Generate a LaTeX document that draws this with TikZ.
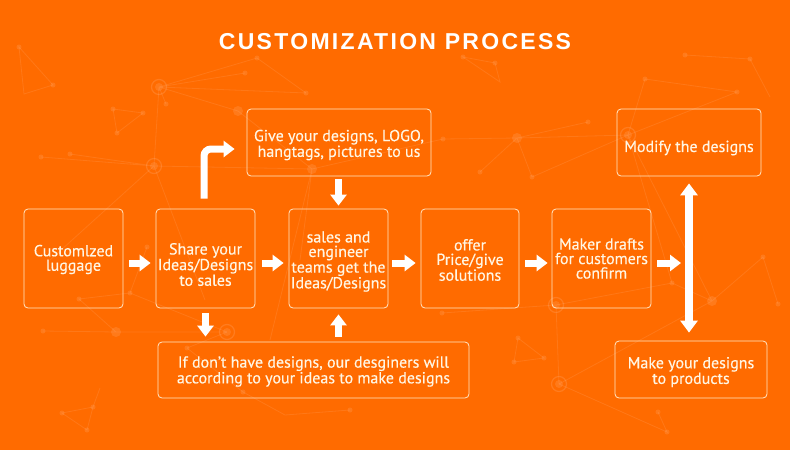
\documentclass[tikz,border=0pt]{standalone}
\usepackage{fontspec}
\setmainfont{PT Sans}[FakeBold=0.4]
\newfontfamily\titlefont{Liberation Sans}[LetterSpace=10]
\usetikzlibrary{arrows.meta}
\definecolor{bgor}{RGB}{255,107,0}
\definecolor{cream}{RGB}{255,246,228}
\definecolor{edgec}{RGB}{255,232,200}
\tikzset{
  box/.style={draw=edgec, line width=0.8pt, rounded corners=4pt, inner sep=0pt},
  boxtext/.style={align=center, text=cream, inner sep=0pt, font=\fontsize{16}{14.5}\selectfont},
  blk/.style={draw=white, line width=7pt, -{Triangle[width=16pt,length=11pt]}},
  dblk/.style={draw=white, line width=8pt, {Triangle[width=17pt,length=12pt]}-{Triangle[width=17pt,length=12pt]}},
  net/.style={draw=white, opacity=0.09, line width=0.8pt},
  dot/.style={fill=white, opacity=0.1},
  ring/.style={draw=white, opacity=0.12, line width=1.2pt}
}
\begin{document}
\begin{tikzpicture}[x=1pt,y=-1pt]
\fill[bgor] (0,0) rectangle (790,450);
\useasboundingbox (0,0) rectangle (790,450);
% faint background network
\draw[net] (19,47) -- (53,85) -- (24,94) -- cycle;
\draw[net] (159,87) -- (257,58) (159,87) -- (245,73) (159,87) -- (306,93) (159,87) -- (238,111) (159,87) -- (166,104) (159,87) -- (154,166);
\draw[net] (113,109) -- (143,113) -- (117,133) -- cycle;
\draw[net] (154,166) -- (41,157) (154,166) -- (70,154) (154,166) -- (50,260) (154,166) -- (205,300) (154,166) -- (312,169) (306,93) -- (257,58);
\draw[net] (312,169) -- (238,111) (312,169) -- (300,260) (312,169) -- (270,340) (312,169) -- (443,139);
\draw[net] (463,57) -- (495,63) -- (500,82) -- cycle;
\draw[net] (685,55) -- (750,59) -- (770,97) (645,79) -- (737,92) -- (628,135) -- (645,79);
\draw[net] (628,135) -- (517,138) -- (480,172) (517,138) -- (532,177) -- (628,135) (588,122) -- (517,138) (443,139) -- (517,138);
\draw[net] (628,135) -- (672,283) -- (712,301) -- (763,257) -- (778,304) (712,301) -- (628,135) (712,301) -- (559,384);
\draw[net] (116,332) -- (43,331) (116,332) -- (79,299) -- (130,293) -- (147,247) (116,332) -- (227,332) (130,293) -- (227,332);
\draw[net] (62,413) -- (93,407) -- (87,430) -- cycle (93,407) -- (100,388);
\draw[net] (187,348) -- (243,392) -- (285,415) -- (350,410) (227,332) -- (187,348);
\draw[net] (556,305) -- (559,384) -- (667,432) -- (658,412) (518,338) -- (544,358) -- (514,362) -- cycle (442,313) -- (556,305) (556,305) -- (672,283);
\foreach \p in {(19,47),(53,85),(257,58),(245,73),(306,93),(166,104),(113,109),(143,113),(117,133),(41,157),(70,154),(463,57),(495,63),(685,55),(750,59),(645,79),(737,92),(588,122),(443,139),(480,172),(532,177),(79,299),(130,293),(147,247),(43,331),(62,413),(93,407),(87,430),(187,348),(243,392),(350,410),(518,338),(544,358),(514,362),(442,313),(763,257),(778,304),(672,283),(667,432),(658,412)}
  \fill[dot] \p circle (2.5);
\foreach \p in {(238,111),(312,169),(517,138),(116,332),(712,301)}
  \fill[dot] \p circle (5);
\foreach \p in {(159,87),(154,166),(628,135),(227,332),(556,305),(559,384)}
  {\fill[dot] \p circle (4); \draw[ring] \p circle (7.5);}
% title
\node[anchor=base, text=white, font=\titlefont\bfseries\fontsize{23}{23}\selectfont] (title) at (395,49) {CUSTOMIZATION PROCESS};
% boxes
\node[box, minimum width=99, minimum height=99] (b1) at (73.5,258.5) {};
\node[box, minimum width=99, minimum height=99] (b2) at (205.5,258.5) {};
\node[box, minimum width=99, minimum height=99] (b3) at (338.5,258.5) {};
\node[box, minimum width=98, minimum height=99] (b4) at (470,258.5) {};
\node[box, minimum width=99, minimum height=99] (b5) at (601.5,258.5) {};
\node[box, minimum width=184, minimum height=67] (give) at (339,142.5) {};
\node[box, minimum width=144, minimum height=67] (modify) at (689,142.5) {};
\node[box, minimum width=152, minimum height=57] (make) at (691,369.5) {};
\node[box, minimum width=311, minimum height=56] (bot) at (313.5,370) {};
% box texts
\node[boxtext] (b1t) at ([yshift=-1pt]b1.center) {Customlzed\\luggage};
\node[boxtext] (b2t) at ([yshift=-6pt]b2.center) {Share your\\Ideas/Designs\\to sales};
\node[boxtext] (b3t) at ([yshift=-3pt]b3.center) {sales and\\engineer\\teams get the\\Ideas/Designs};
\node[boxtext] (b4t) at ([yshift=-1.5pt]b4.center) {offer\\Price/give\\solutions};
\node[boxtext] (b5t) at (b5.center) {Maker drafts\\for customers\\confirm};
\node[boxtext] (givet) at ([yshift=-2.5pt]give.center) {Give your designs, LOGO,\\hangtags, pictures to us};
\node[boxtext] (modifyt) at ([yshift=-5.5pt]modify.center) {Modify the designs};
\node[boxtext] (maket) at ([yshift=-2.5pt]make.center) {Make your designs\\to products};
\node[boxtext] (bott) at ([yshift=-1.5pt]bot.center) {If don't have designs, our desginers will\\according to your ideas to make designs};
\coordinate (vline) at (681,263);
% connectors
\draw[blk, shorten <=6pt, shorten >=5pt] ([yshift=-4.5pt]b1.east) -- ([yshift=-4.5pt]b2.west);
\draw[blk, shorten <=7pt, shorten >=5pt] ([yshift=-4.5pt]b2.east) -- ([yshift=-4.5pt]b3.west);
\draw[blk, shorten <=4pt, shorten >=5pt] ([yshift=-4.5pt]b3.east) -- ([yshift=-4.5pt]b4.west);
\draw[blk, shorten <=6pt, shorten >=4pt] ([yshift=-4.5pt]b4.east) -- ([yshift=-4.5pt]b5.west);
\draw[blk, shorten <=6pt] ([yshift=-4.5pt]b5.east) -- (vline);
\draw[blk, rounded corners=7pt, shorten >=12pt] ([xshift=-1.5pt,yshift=10pt]b2.north) |- ([yshift=-6.5pt]give.west);
\draw[blk, shorten <=3pt, shorten >=3pt] (give.south -| b3.north) -- (b3.north);
\draw[blk, shorten <=5pt, shorten >=5pt] (b2.south) -- (b2.south |- bot.north);
\draw[blk, shorten <=5pt, shorten >=6pt] (b3.south |- bot.north) -- (b3.south);
\draw[dblk, shorten <=7pt, shorten >=8pt] (modify.south) -- (modify.south |- make.north);
\end{tikzpicture}
\end{document}
